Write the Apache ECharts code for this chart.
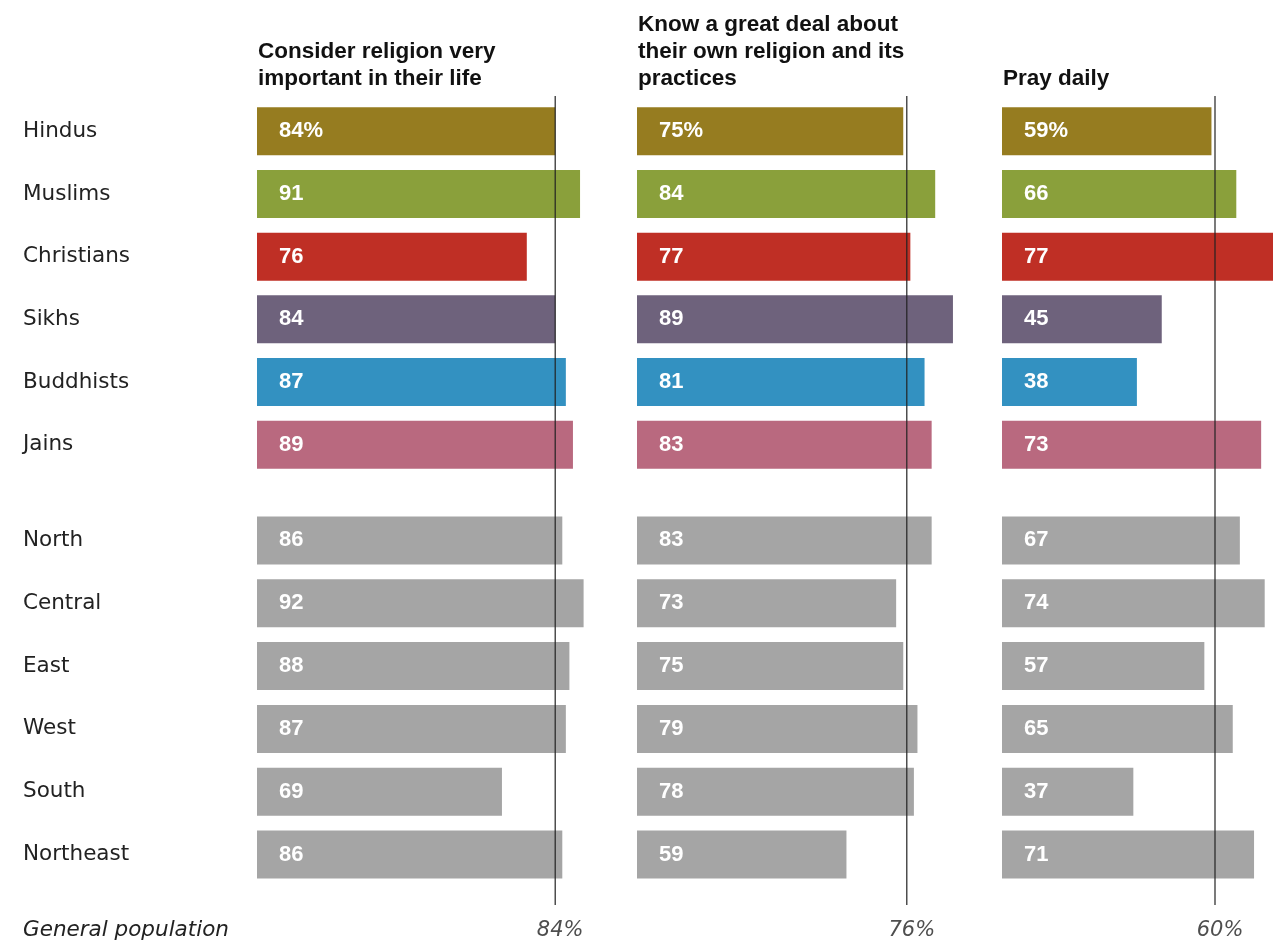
<!DOCTYPE html>
<html>
<head>
<meta charset="utf-8">
<script src="https://cdn.jsdelivr.net/npm/echarts@6/dist/echarts.min.js"></script>
<style>
html,body{margin:0;padding:0;background:#fff;}
#chart{width:1273px;height:941px;}
</style>
</head>
<body>
<div id="chart"></div>
<script>
const groups = ['Hindus', 'Muslims', 'Christians', 'Sikhs', 'Buddhists', 'Jains'];
const regions = ['North', 'Central', 'East', 'West', 'South', 'Northeast'];
const panelTitles = [
  'Consider religion very\nimportant in their life',
  'Know a great deal about\ntheir own religion and its\npractices',
  'Pray daily'
];
const importantGroups = [84, 91, 76, 84, 87, 89];
const importantRegions = [86, 92, 88, 87, 69, 86];
const knowGroups = [75, 84, 77, 89, 81, 83];
const knowRegions = [83, 73, 75, 79, 78, 59];
const prayGroups = [59, 66, 77, 45, 38, 73];
const prayRegions = [67, 74, 57, 65, 37, 71];
const generalPopulation = [84, 76, 60];
const generalPopulationLabel = 'General population';
const groupColors = ['#967c20', '#8aa03b', '#bf2f25', '#6e627c', '#3391c1', '#b9697f'];
const regionColor = '#a5a5a5';

const panelGroupData = [importantGroups, knowGroups, prayGroups];
const panelRegionData = [importantRegions, knowRegions, prayRegions];
const panelLeft = [257, 637, 1002];
const fullWidth = 355;           // pixel width of 0..100 on each panel
const chartWidth = 1273;
const titleTops = [38, 11, 65];

const grid = [], xAxis = [], yAxis = [], series = [], title = [];
const labelFont = 'Liberation Sans, Arial, sans-serif';

for (let p = 0; p < 3; p++) {
  // last panel runs off the right edge: shrink the grid and its max to keep the same scale
  const w = Math.min(fullWidth, chartWidth - panelLeft[p]);
  const xMax = 100 * w / fullWidth;
  title.push({
    text: panelTitles[p], left: panelLeft[p] + 1, top: titleTops[p], padding: 0,
    textStyle: {fontFamily: labelFont, fontWeight: 'bold', fontSize: 22.5, lineHeight: 27, color: '#111'}
  });
  const blocks = [
    {cats: groups, data: panelGroupData[p], colors: groupColors, top: 100, height: 376, isGroup: true},
    {cats: regions, data: panelRegionData[p], colors: null, top: 509, height: 377, isGroup: false}
  ];
  blocks.forEach(b => {
    const gi = grid.length;
    grid.push({left: panelLeft[p], width: w, top: b.top, height: b.height});
    xAxis.push({type: 'value', gridIndex: gi, min: 0, max: xMax, show: false});
    yAxis.push({
      type: 'category', gridIndex: gi, data: b.cats, inverse: true,
      axisLine: {show: false}, axisTick: {show: false}, splitLine: {show: false},
      axisLabel: {
        show: p === 0, align: 'left', margin: panelLeft[0] - 23,
        fontFamily: 'DejaVu Sans, sans-serif', fontSize: 21.5, color: '#222'
      }
    });
    series.push({
      type: 'bar', xAxisIndex: gi, yAxisIndex: gi, barWidth: 48, silent: true, clip: true,
      data: b.data.map((v, i) => ({
        value: v,
        itemStyle: {color: b.colors ? b.colors[i] : regionColor}
      })),
      label: {
        show: true, position: 'insideLeft', distance: 22,
        fontFamily: labelFont, fontWeight: 'bold', fontSize: 22, color: '#fff',
        formatter: (prm) => (b.isGroup && prm.dataIndex === 0) ? prm.value + '%' : String(prm.value)
      }
    });
  });
  // reference line for general population
  const ri = grid.length;
  grid.push({left: panelLeft[p], width: w, top: 96, height: 809});
  xAxis.push({type: 'value', gridIndex: ri, min: 0, max: xMax, show: false});
  yAxis.push({type: 'value', gridIndex: ri, min: 0, max: 1, show: false});
  series.push({
    type: 'line', xAxisIndex: ri, yAxisIndex: ri, silent: true, symbol: 'none', z: 5,
    lineStyle: {color: '#222', width: 1.2},
    data: [[generalPopulation[p], 0], [generalPopulation[p], 1]]
  });
  series.push({
    type: 'scatter', xAxisIndex: ri, yAxisIndex: ri, silent: true, symbolSize: 0,
    data: [[generalPopulation[p], 0]],
    label: {
      show: true, position: 'bottom', distance: 15, offset: [5, 0],
      fontFamily: 'DejaVu Sans, sans-serif', fontStyle: 'italic', fontSize: 21, color: '#222',
      formatter: generalPopulation[p] + '%'
    }
  });
}
title.push({
  text: generalPopulationLabel, left: 23, top: 919, padding: 0,
  textStyle: {fontFamily: 'DejaVu Sans, sans-serif', fontStyle: 'italic', fontWeight: 'normal', fontSize: 21.5, color: '#222'}
});

const chart = echarts.init(document.getElementById('chart'), null, {renderer: 'canvas'});
chart.setOption({animation: false, backgroundColor: '#fff', title, grid, xAxis, yAxis, series});
</script>
</body>
</html>
